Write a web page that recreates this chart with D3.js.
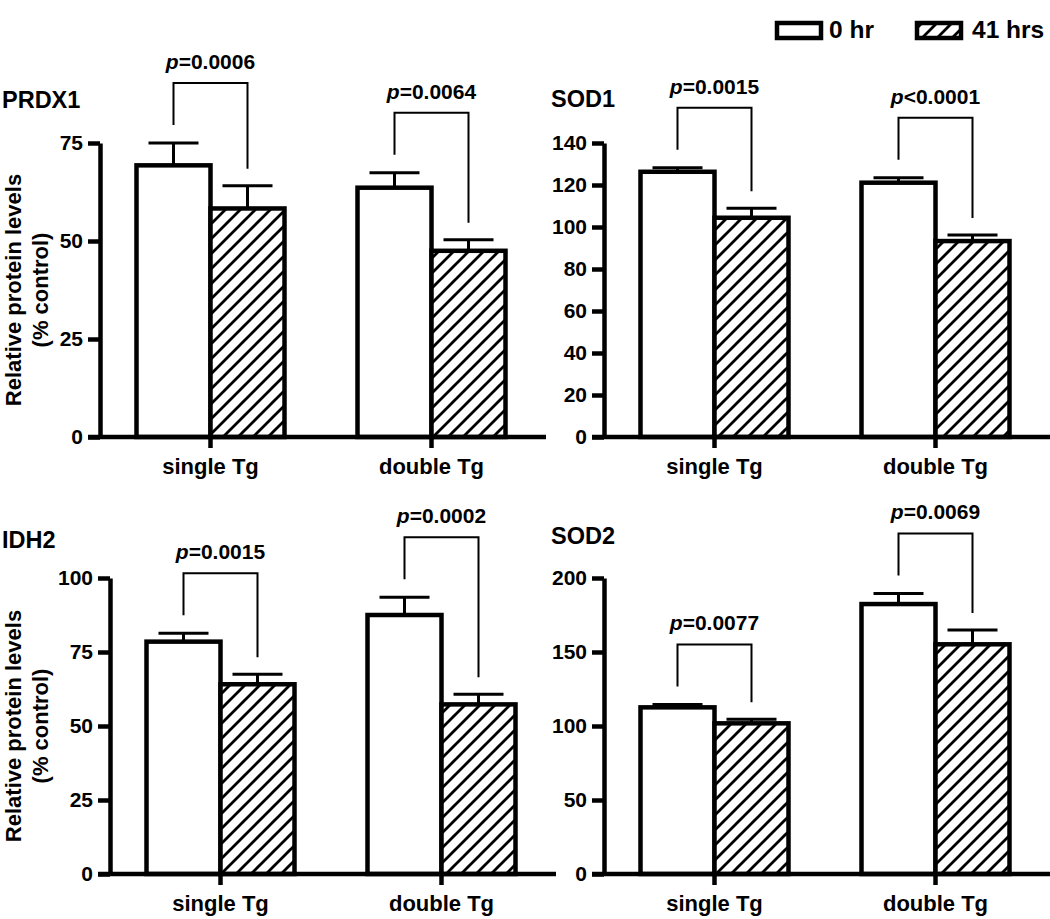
<!DOCTYPE html>
<html>
<head>
<meta charset="utf-8">
<script src="https://cdn.jsdelivr.net/npm/d3@7"></script>
<style>
  html, body { margin: 0; padding: 0; background: #fff; }
  svg { display: block; }
  text { font-family: "Liberation Sans", Arial, sans-serif; font-weight: bold; fill: #000; }
</style>
</head>
<body>
<svg id="chart" width="1050" height="919"></svg>
<script>
// ---------------- DATA ----------------
const categories = ["single Tg", "double Tg"];
const seriesNames = ["0 hr", "41 hrs"];

const prdx1Mean0 = [69.3, 63.6];
const prdx1Mean41 = [58.3, 47.5];
const prdx1Err0 = [5.7, 3.8];
const prdx1Err41 = [5.8, 2.8];
const prdx1Ticks = [0, 25, 50, 75];
const prdx1P = ["=0.0006", "=0.0064"];

const sod1Mean0 = [126.3, 121.1];
const sod1Mean41 = [104.4, 93.3];
const sod1Err0 = [1.9, 2.4];
const sod1Err41 = [4.5, 2.9];
const sod1Ticks = [0, 20, 40, 60, 80, 100, 120, 140];
const sod1P = ["=0.0015", "<0.0001"];

const idh2Mean0 = [78.5, 87.5];
const idh2Mean41 = [64.1, 57.3];
const idh2Err0 = [2.8, 6.0];
const idh2Err41 = [3.4, 3.4];
const idh2Ticks = [0, 25, 50, 75, 100];
const idh2P = ["=0.0015", "=0.0002"];

const sod2Mean0 = [112.6, 182.4];
const sod2Mean41 = [101.8, 155.2];
const sod2Err0 = [2.0, 7.2];
const sod2Err41 = [2.7, 9.7];
const sod2Ticks = [0, 50, 100, 150, 200];
const sod2P = ["=0.0077", "=0.0069"];

const yLabelLines = ["Relative protein levels", "(% control)"];

// ---------------- LAYOUT ----------------
const svg = d3.select("#chart");
const defs = svg.append("defs");
const pat = defs.append("pattern")
  .attr("id", "hatch")
  .attr("patternUnits", "userSpaceOnUse")
  .attr("width", 15).attr("height", 15);
pat.append("rect").attr("width", 15).attr("height", 15).attr("fill", "#fff");
pat.append("path")
  .attr("d", "M-2,2 L2,-2 M0,15 L15,0 M13,17 L17,13")
  .attr("stroke", "#000").attr("stroke-width", 2.8);

const panels = [
  { title: "PRDX1", mean0: prdx1Mean0, mean41: prdx1Mean41, err0: prdx1Err0, err41: prdx1Err41,
    ticks: prdx1Ticks, p: prdx1P, axisX: 100, y0: 437, yTop: 143, titleX: 2, titleY: 108, ylab: true },
  { title: "SOD1", mean0: sod1Mean0, mean41: sod1Mean41, err0: sod1Err0, err41: sod1Err41,
    ticks: sod1Ticks, p: sod1P, axisX: 604, y0: 437, yTop: 143, titleX: 551, titleY: 107, ylab: false },
  { title: "IDH2", mean0: idh2Mean0, mean41: idh2Mean41, err0: idh2Err0, err41: idh2Err41,
    ticks: idh2Ticks, p: idh2P, axisX: 110, y0: 874, yTop: 578, titleX: 2, titleY: 548, ylab: true },
  { title: "SOD2", mean0: sod2Mean0, mean41: sod2Mean41, err0: sod2Err0, err41: sod2Err41,
    ticks: sod2Ticks, p: sod2P, axisX: 604, y0: 874, yTop: 578, titleX: 551, titleY: 544, ylab: false }
];

const groupWidth = 221;
const barW = 74;

panels.forEach(pn => {
  const g = svg.append("g");
  const yMax = d3.max(pn.ticks);
  const y = d3.scaleLinear().domain([0, yMax]).range([pn.y0, pn.yTop]);
  const x = d3.scaleBand().domain(categories).range([pn.axisX, pn.axisX + 2 * groupWidth]).padding(0);
  const xs = d3.scaleBand().domain(seriesNames).range([-barW, barW]).padding(0);

  const rows = [];
  categories.forEach((c, i) => {
    rows.push({ cat: c, s: seriesNames[0], v: pn.mean0[i], e: pn.err0[i] });
    rows.push({ cat: c, s: seriesNames[1], v: pn.mean41[i], e: pn.err41[i] });
  });
  const cx = d => x(d.cat) + x.bandwidth() / 2 + xs(d.s) + xs.bandwidth() / 2;

  // error bars (upper only)
  g.selectAll("line.err").data(rows).join("line")
    .attr("x1", cx).attr("x2", cx)
    .attr("y1", d => y(d.v)).attr("y2", d => y(d.v + d.e))
    .attr("stroke", "#000").attr("stroke-width", 3);
  g.selectAll("line.cap").data(rows).join("line")
    .attr("x1", d => cx(d) - 25).attr("x2", d => cx(d) + 25)
    .attr("y1", d => y(d.v + d.e)).attr("y2", d => y(d.v + d.e))
    .attr("stroke", "#000").attr("stroke-width", 3);

  // bars
  g.selectAll("rect.bar").data(rows).join("rect")
    .attr("x", d => x(d.cat) + x.bandwidth() / 2 + xs(d.s))
    .attr("width", xs.bandwidth())
    .attr("y", d => y(d.v))
    .attr("height", d => y(0) - y(d.v))
    .attr("fill", d => d.s === seriesNames[0] ? "#fff" : "url(#hatch)")
    .attr("stroke", "#000").attr("stroke-width", 4.5);

  // y axis
  const yAxis = d3.axisLeft(y).tickValues(pn.ticks).tickSize(12).tickSizeOuter(0).tickPadding(5);
  const ya = g.append("g").attr("transform", `translate(${pn.axisX},0)`).call(yAxis);
  ya.select(".domain").attr("stroke", "#000").attr("stroke-width", 4.5);
  ya.selectAll(".tick line").attr("stroke", "#000").attr("stroke-width", 4.5);
  ya.selectAll(".tick text").style("font-size", "21px").style("font-family", "Liberation Sans, Arial, sans-serif").style("font-weight", "bold");

  // x axis
  const xAxis = d3.axisBottom(x).tickSize(11).tickSizeOuter(0).tickPadding(10);
  const xa = g.append("g").attr("transform", `translate(0,${pn.y0})`).call(xAxis);
  xa.select(".domain").remove();
  xa.selectAll(".tick line").attr("stroke", "#000").attr("stroke-width", 4.5);
  xa.selectAll(".tick text").style("font-size", "22px").style("font-family", "Liberation Sans, Arial, sans-serif").style("font-weight", "bold");
  g.append("line")
    .attr("x1", pn.axisX - 12).attr("x2", x.range()[1] + 4)
    .attr("y1", y(0)).attr("y2", y(0))
    .attr("stroke", "#000").attr("stroke-width", 4.5);

  // significance brackets
  categories.forEach((c, i) => {
    const a = rows[i * 2], b = rows[i * 2 + 1];
    const ta = y(a.v + a.e), tb = y(b.v + b.e);
    const by = Math.min(ta, tb) - 60;
    const xa1 = cx(a), xb1 = cx(b);
    g.append("path")
      .attr("d", `M${xa1},${ta - 18} V${by} H${xb1} V${tb - 17}`)
      .attr("fill", "none").attr("stroke", "#000").attr("stroke-width", 2);
    const t = g.append("text")
      .attr("x", (xa1 + xb1) / 2).attr("y", by - 14)
      .attr("text-anchor", "middle").style("font-size", "21px");
    t.append("tspan").attr("font-style", "italic").text("p");
    t.append("tspan").text(pn.p[i]);
  });

  // title
  g.append("text").attr("x", pn.titleX).attr("y", pn.titleY).style("font-size", "23.5px").text(pn.title);

  // y label
  if (pn.ylab) {
    const midY = (pn.y0 + pn.yTop) / 2;
    yLabelLines.forEach((l, k) => {
      g.append("text")
        .attr("transform", `translate(${13 + k * 27},${midY}) rotate(-90)`)
        .attr("text-anchor", "middle").attr("dominant-baseline", "central")
        .style("font-size", "22px").text(l);
    });
  }
});

// legend
const legend = svg.append("g");
const legX = [777, 917];
const legTextX = [829, 972];
seriesNames.forEach((s, i) => {
  legend.append("rect")
    .attr("x", legX[i]).attr("y", 23).attr("width", 44).attr("height", 15)
    .attr("fill", i === 0 ? "#fff" : "url(#hatch)")
    .attr("stroke", "#000").attr("stroke-width", 4.5);
  legend.append("text").attr("x", legTextX[i]).attr("y", 38)
    .style("font-size", "24.5px").text(s);
});
</script>
</body>
</html>
